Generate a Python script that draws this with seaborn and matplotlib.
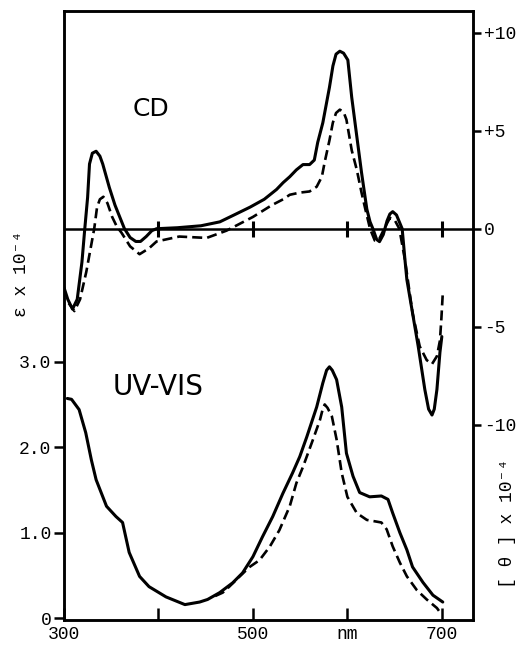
import matplotlib
matplotlib.use("Agg")
import matplotlib.pyplot as plt
import seaborn as sns

# CD spectra, [theta] x 10^-4 (right axis)
cd_solid_nm = [300, 304, 309, 314, 319, 322, 325, 327, 330, 334, 338, 341, 348, 354, 359, 364,
               370, 376, 381, 387, 393, 398, 420, 445, 465, 480, 497, 512, 525, 532, 539, 546,
               553, 560, 565, 568.6, 574, 581, 584.7, 588, 592, 596, 600.5, 604.6, 610, 615,
               620.6, 624, 627, 631, 634, 638, 642, 645, 648, 652, 655, 658, 661, 663, 669,
               675, 682, 686, 689.6, 692, 694.8, 698, 700]
cd_solid = [-3.0, -3.6, -4.1, -3.6, -1.7, 0.0, 1.6, 3.3, 3.85, 3.95, 3.7, 3.3, 2.1, 1.2, 0.6, 0.0,
            -0.45, -0.65, -0.65, -0.4, -0.1, 0.0, 0.05, 0.15, 0.35, 0.7, 1.1, 1.5, 2.0, 2.35, 2.65, 3.0,
            3.27, 3.27, 3.5, 4.4, 5.4, 7.2, 8.3, 8.9, 9.05, 8.95, 8.6, 6.7, 4.7, 2.86,
            1.0, 0.35, 0.0, -0.55, -0.66, -0.3, 0.4, 0.75, 0.87, 0.7, 0.35, 0.0, -1.6, -2.6, -4.3,
            -6.0, -8.2, -9.2, -9.5, -9.2, -8.2, -6.3, -5.5]

cd_dash_nm = [305, 311, 317, 323.6, 332, 335, 338, 341.7, 346, 351, 356, 360.8, 370, 380, 390, 398,
              422, 451, 472, 500, 520, 532, 539, 549.6, 560, 567.5, 573, 576, 581, 584.6, 588, 592,
              596, 599, 604.6, 610, 615, 619, 624, 629, 633, 639, 645, 650, 655, 661, 669,
              676.6, 684, 689.6, 694.8, 698, 699.5, 701]
cd_dash = [-3.8, -4.2, -3.6, -2.2, 0.0, 1.1, 1.5, 1.63, 1.3, 0.6, 0.1, -0.2, -0.9, -1.3, -1.0, -0.65,
           -0.4, -0.47, -0.1, 0.6, 1.2, 1.5, 1.73, 1.84, 1.9, 2.14, 2.65, 3.4, 4.5, 5.4, 5.9, 6.07,
           5.95, 5.56, 4.0, 3.0, 1.84, 1.0, 0.0, -0.6, -0.6, 0.0, 0.55, 0.45, 0.0, -1.6, -4.3,
           -6.0, -6.7, -6.9, -6.5, -5.7, -4.6, -3.3]

# UV-VIS spectra, epsilon x 10^-4 (left axis)
uv_solid_nm = [303.5, 308, 316, 323, 329, 334, 345, 355, 362, 369, 380, 390, 408, 428, 443.6, 452,
               464.8, 478.6, 489, 500, 510, 521, 531.7, 542, 549.6, 557, 567.5, 574, 578, 581,
               584, 588.6, 594, 599, 606, 613, 623.6, 636, 643, 648, 655.6, 663, 669, 680,
               690.6, 701]
uv_solid = [2.57, 2.56, 2.44, 2.17, 1.85, 1.62, 1.31, 1.19, 1.12, 0.77, 0.49, 0.37, 0.25, 0.16, 0.19, 0.22,
            0.3, 0.415, 0.53, 0.72, 0.95, 1.19, 1.46, 1.7, 1.89, 2.12, 2.47, 2.75, 2.9, 2.94,
            2.9, 2.79, 2.47, 1.93, 1.66, 1.47, 1.42, 1.43, 1.39, 1.23, 1.0, 0.8, 0.6, 0.42,
            0.27, 0.19]

uv_dash_nm = [460, 468, 475, 486, 496.5, 507, 518, 528, 539, 546, 553, 563.6, 571, 574, 576, 579,
              583.6, 588.6, 594, 600, 610, 620.6, 631, 636, 641.6, 648, 655.6, 663, 673.5, 684,
              694.8, 700]
uv_dash = [0.26, 0.3, 0.37, 0.49, 0.6, 0.68, 0.84, 1.03, 1.31, 1.58, 1.77, 2.09, 2.32, 2.45, 2.5, 2.46,
           2.36, 2.09, 1.7, 1.42, 1.23, 1.15, 1.13, 1.12, 1.04, 0.84, 0.65, 0.49, 0.33, 0.22,
           0.12, 0.04]

cd_zero_ticks = [400, 500, 600, 700]

x_ticks = [300, 400, 500, 600, 700]
x_ticklabels = ["300", "", "500", "nm", "700"]
eps_ticks = [0, 1, 2, 3]
eps_ticklabels = ["0", "1.0", "2.0", "3.0"]
theta_ticks = [10, 5, 0, -5, -10]
theta_ticklabels = ["+10", "+5", "0", "-5", "-10"]

sns.set_style("white")
mono = ["Liberation Mono", "DejaVu Sans Mono"]
plt.rcParams["font.family"] = mono
plt.rcParams["text.color"] = "black"
plt.rcParams["xtick.color"] = "black"
plt.rcParams["ytick.color"] = "black"
plt.rcParams["axes.labelcolor"] = "black"

W, H = 524, 646
fig = plt.figure(figsize=(W / 100, H / 100), dpi=100)
ax = fig.add_axes([64 / W, 26 / H, 409 / W, 609 / H])
ax2 = ax.twinx()

lw_solid = 2.2
lw_dash = 1.9
dash_style = (0, (3.8, 1.9))

# UV-VIS on left axis
sns.lineplot(x=uv_solid_nm, y=uv_solid, ax=ax, color="black", lw=lw_solid)
sns.lineplot(x=uv_dash_nm, y=uv_dash, ax=ax, color="black", lw=lw_dash, linestyle=dash_style)

# CD on right axis
ax2.axhline(0, color="black", lw=1.8)
ax2.plot(cd_zero_ticks, [0] * len(cd_zero_ticks), ls="none", marker="|",
         ms=11, mew=2.2, color="black")
sns.lineplot(x=cd_solid_nm, y=cd_solid, ax=ax2, color="black", lw=lw_solid)
sns.lineplot(x=cd_dash_nm, y=cd_dash, ax=ax2, color="black", lw=lw_dash, linestyle=dash_style)

ax.set_xlim(300, 733)
ax.set_ylim(-0.02, 7.1)
ax2.set_ylim(-19.95, 11.1)

for a in (ax, ax2):
    for s in a.spines.values():
        s.set_linewidth(1.8)
        s.set_color("black")

ax.set_xticks(x_ticks)
ax.set_xticklabels(x_ticklabels)
ax.set_yticks(eps_ticks)
ax.set_yticklabels(eps_ticklabels)
ax2.set_yticks(theta_ticks)
ax2.set_yticklabels(theta_ticklabels)

ax.tick_params(axis="x", direction="in", length=9, width=1.8, pad=4, labelsize=13, bottom=True)
ax.tick_params(axis="y", direction="out", length=7, width=1.8, pad=2, labelsize=13, left=True)
ax2.tick_params(axis="y", direction="out", length=6, width=1.8, pad=2, labelsize=13, right=True)

ax.set_xlabel("")
ax.set_ylabel("")
ax2.set_ylabel("")

ax.text(0.213, 0.8276, "CD", transform=ax.transAxes, ha="center", va="baseline",
        fontsize=18, family="DejaVu Sans", color="black")
ax.text(0.231, 0.3695, "UV-VIS", transform=ax.transAxes, ha="center", va="baseline",
        fontsize=20, family="DejaVu Sans", color="black")

fig.text(21 / W, 1 - 274 / H, "ε x 10⁻⁴", rotation=90, ha="center", va="center",
         fontsize=13, family=mono, color="black")
fig.text(507 / W, 1 - 523 / H, "[ θ ] x 10⁻⁴", rotation=90, ha="center", va="center",
         fontsize=13, family=mono, color="black")

fig.savefig("out.png", dpi=100)
